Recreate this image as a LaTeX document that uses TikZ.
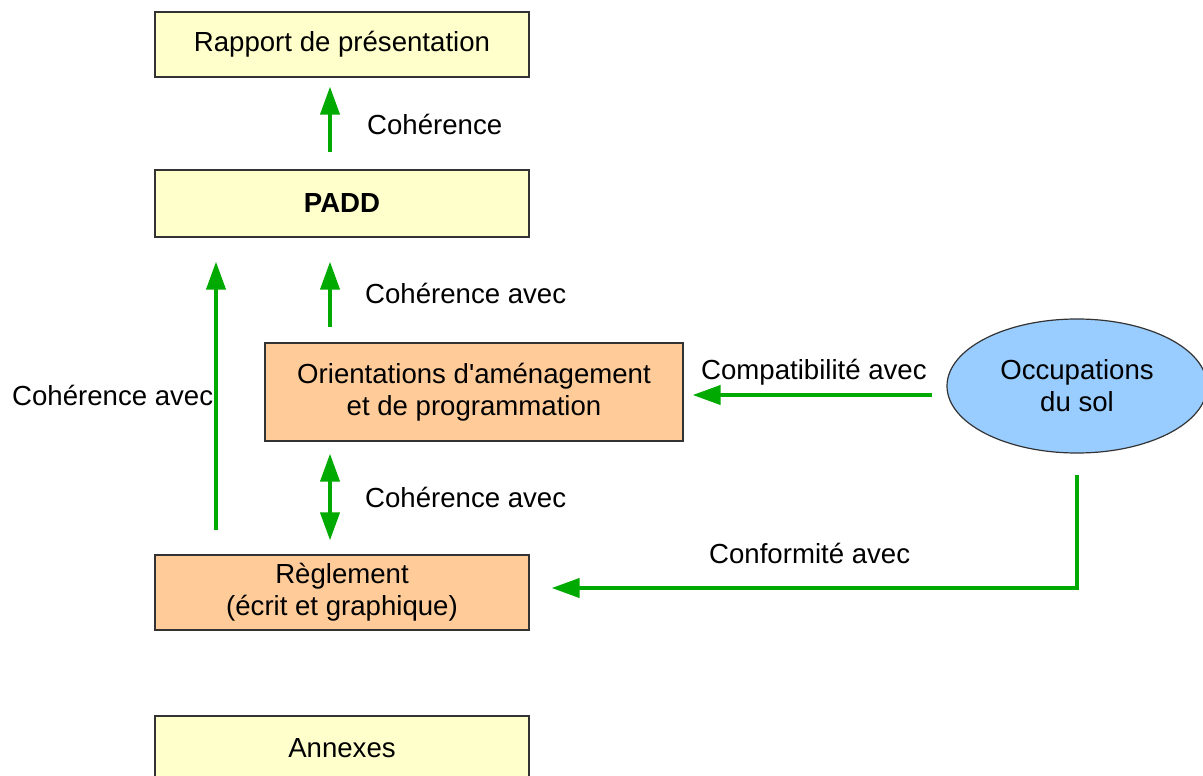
\documentclass[tikz,border=0pt]{standalone}
\usepackage{fontspec}
\setmainfont{Liberation Sans}[Ligatures=TeXOff]
\usetikzlibrary{arrows.meta,shapes.geometric,calc}
\definecolor{boxyellow}{HTML}{FFFFCC}
\definecolor{boxorange}{HTML}{FFCC99}
\definecolor{ellblue}{HTML}{99CCFF}
\definecolor{arrgreen}{HTML}{00AA00}
\definecolor{bordergray}{HTML}{333333}
\tikzset{
  txt/.style={font=\fontsize{27.6}{32}\selectfont},
  box/.style={draw=bordergray, line width=1.2pt, rectangle, inner sep=0pt, txt, align=center},
  ybox/.style={box, fill=boxyellow},
  obox/.style={box, fill=boxorange},
  ell/.style={draw=bordergray, line width=1.2pt, ellipse, fill=ellblue, inner sep=0pt, txt, align=center},
  arr/.style={draw=arrgreen, line width=4pt, -{Triangle[length=28pt,width=19pt]}},
  darr/.style={draw=arrgreen, line width=4pt, {Triangle[length=28pt,width=19pt]}-{Triangle[length=28pt,width=19pt]}},
  lbl/.style={txt, inner sep=0pt, anchor=base west}
}
\begin{document}
\begin{tikzpicture}[x=1pt,y=-1pt]
\useasboundingbox (0,0) rectangle (1203,776);
\clip (0,0) rectangle (1203,776);
\node[ybox, minimum width=374pt, minimum height=65pt] (rapport) at (342,44.5) {Rapport de présentation};
\node[ybox, minimum width=374pt, minimum height=67pt] (padd) at (342,203.5) {\textbf{PADD}};
\node[obox, minimum width=418pt, minimum height=98pt] (orient) at (474,392) {Orientations d'aménagement\\et de programmation};
\node[obox, minimum width=374pt, minimum height=75pt] (regl) at (342,592.5) {Règlement\\(écrit et graphique)};
\node[ybox, minimum width=374pt, minimum height=64pt] (annexes) at (342,748) {Annexes};
\node[ell, minimum width=260pt, minimum height=134pt] (occ) at (1077,386) {Occupations\\du sol};

\draw[arr] ([xshift=-12pt,yshift=17pt]padd.north) -- ([xshift=-12pt,yshift=-9pt]rapport.south);
\draw[arr] ([xshift=-126pt,yshift=24pt]regl.north) -- ([xshift=-126pt,yshift=-24pt]padd.south);
\draw[arr] ([xshift=-144pt,yshift=15pt]orient.north) -- ([xshift=-12pt,yshift=-24pt]padd.south);
\draw[darr] ([xshift=-144pt,yshift=-12pt]orient.south) -- ([xshift=-12pt,yshift=14pt]regl.north);
\draw[arr] ([xshift=-14pt,yshift=-9pt]occ.west) -- ([xshift=9pt,yshift=-3pt]orient.east);
\draw[arr] ([yshift=-21pt]occ.south) |- ([xshift=22pt,yshift=4.5pt]regl.east);

\node[lbl] (l1) at (367,135) {Cohérence};
\node[lbl] (l2) at (365,303) {Cohérence avec};
\node[lbl] (l3) at (365,507) {Cohérence avec};
\node[lbl] (l4) at (12,405) {Cohérence avec};
\node[lbl] (l5) at (701,379) {Compatibilité avec};
\node[lbl] (l6) at (709,563) {Conformité avec};
\end{tikzpicture}
\end{document}
